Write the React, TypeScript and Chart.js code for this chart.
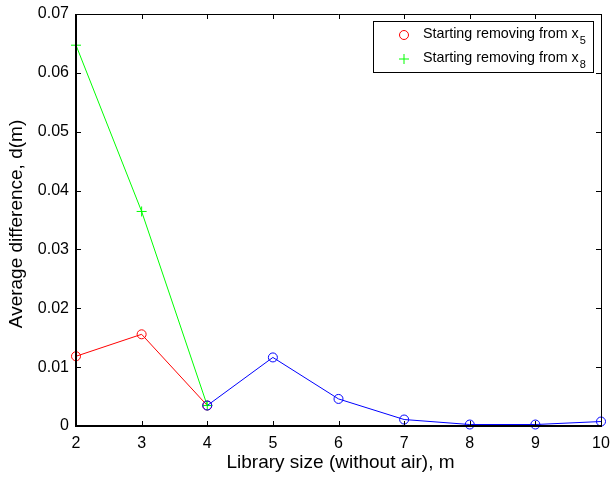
import React, { useEffect, useRef } from "react";
import Chart from "chart.js/auto";

const xRed = [2, 3, 4];
const yRed = [0.01185, 0.01558, 0.00348];
const xGreen = [2, 3, 4];
const yGreen = [0.0647, 0.03645, 0.00348];
const xBlue = [4, 5, 6, 7, 8, 9, 10];
const yBlue = [0.00348, 0.01165, 0.0046, 0.0011, 0.00025, 0.00025, 0.00076];
const legendLabels = ["Starting removing from x", "Starting removing from x"];
const legendSubs = ["5", "8"];
const xTitle = "Library size (without air), m";
const yTitle = "Average difference, d(m)";

const FONT = "'Liberation Sans', Arial, sans-serif";

const framePlugin = {
  id: "frame",
  afterDraw(chart: any) {
    const ctx = chart.ctx;
    const { left, right, top, bottom } = chart.chartArea;
    const xs = chart.scales.x;
    const ys = chart.scales.y;
    ctx.save();
    ctx.strokeStyle = "#000";
    // ticks inward
    ctx.lineWidth = 1;
    const tl = 5;
    xs.ticks.forEach((t: any) => {
      const px = Math.round(xs.getPixelForValue(t.value)) + 0.5;
      ctx.beginPath();
      ctx.moveTo(px, bottom);
      ctx.lineTo(px, bottom - tl);
      ctx.moveTo(px, top);
      ctx.lineTo(px, top + tl);
      ctx.stroke();
    });
    ys.ticks.forEach((t: any) => {
      const py = Math.round(ys.getPixelForValue(t.value)) + 0.5;
      ctx.beginPath();
      ctx.moveTo(left, py);
      ctx.lineTo(left + tl, py);
      ctx.moveTo(right, py);
      ctx.lineTo(right - tl, py);
      ctx.stroke();
    });
    // box
    ctx.lineWidth = 1;
    ctx.beginPath();
    ctx.moveTo(left, top + 0.5);
    ctx.lineTo(right + 0.5, top + 0.5);
    ctx.lineTo(right + 0.5, bottom);
    ctx.stroke();
    ctx.lineWidth = 2;
    ctx.beginPath();
    ctx.moveTo(left, top);
    ctx.lineTo(left, bottom);
    ctx.lineTo(right + 1, bottom);
    ctx.stroke();

    // titles
    ctx.fillStyle = "#000";
    ctx.font = `19px ${FONT}`;
    ctx.textAlign = "center";
    ctx.textBaseline = "middle";
    ctx.fillText(xTitle, (left + right) / 2 + 2, 463);
    ctx.save();
    ctx.translate(17, 224);
    ctx.rotate(-Math.PI / 2);
    ctx.fillText(yTitle, 0, 0);
    ctx.restore();

    // legend
    const lx = 373.5, ly = 21.5, lw = 220, lh = 51;
    ctx.fillStyle = "#fff";
    ctx.fillRect(lx, ly, lw, lh);
    ctx.lineWidth = 1;
    ctx.strokeStyle = "#000";
    ctx.strokeRect(lx, ly, lw, lh);
    const rows = [34, 58];
    const colors = ["#ff0000", "#00ff00"];
    rows.forEach((ry, i) => {
      ctx.strokeStyle = colors[i];
      ctx.lineWidth = 1;
      ctx.beginPath();
      if (i === 0) {
        ctx.arc(404, ry + 1, 4.5, 0, Math.PI * 2);
      } else {
        ctx.moveTo(399, ry + 1);
        ctx.lineTo(409, ry + 1);
        ctx.moveTo(404, ry - 4);
        ctx.lineTo(404, ry + 6);
      }
      ctx.stroke();
      ctx.fillStyle = "#000";
      ctx.textAlign = "left";
      ctx.textBaseline = "middle";
      ctx.font = `14.3px ${FONT}`;
      ctx.fillText(legendLabels[i], 423, ry);
      const w = ctx.measureText(legendLabels[i]).width;
      ctx.font = `11px ${FONT}`;
      ctx.fillText(legendSubs[i], 423 + w + 1, ry + 7);
    });
    ctx.restore();
  },
};

export default function App() {
  const ref = useRef<HTMLCanvasElement | null>(null);
  useEffect(() => {
    document.body.style.margin = "0";
    const mk = (xs: number[], ys: number[]) => xs.map((x, i) => ({ x, y: ys[i] }));
    const chart = new Chart(ref.current as HTMLCanvasElement, {
      type: "scatter",
      data: {
        datasets: [
          {
            data: mk(xRed, yRed),
            showLine: true,
            clip: false,
            borderColor: "#ff0000",
            backgroundColor: "transparent",
            borderWidth: 1,
            pointStyle: "circle",
            pointRadius: 4.5,
            pointBorderWidth: 1,
            order: 3,
          },
          {
            data: mk(xGreen, yGreen),
            showLine: true,
            clip: false,
            borderColor: "#00ff00",
            backgroundColor: "transparent",
            borderWidth: 1,
            pointStyle: "cross",
            pointRadius: 5,
            pointBorderWidth: 1,
            order: 2,
          },
          {
            data: mk(xBlue, yBlue),
            showLine: true,
            clip: false,
            borderColor: "#0000ff",
            backgroundColor: "transparent",
            borderWidth: 1,
            pointStyle: "circle",
            pointRadius: 4.5,
            pointBorderWidth: 1,
            order: 1,
          },
        ],
      },
      options: {
        animation: false,
        responsive: false,
        devicePixelRatio: 1,
        layout: { padding: { top: 14, right: 10, left: 0, bottom: 0 } },
        plugins: { legend: { display: false }, tooltip: { enabled: false } },
        elements: { line: { tension: 0 } },
        scales: {
          x: {
            type: "linear",
            min: 2,
            max: 10,
            grid: { display: false, drawTicks: false },
            border: { display: false },
            ticks: {
              stepSize: 1,
              color: "#000",
              padding: 8,
              maxRotation: 0,
              font: { family: FONT, size: 16 },
            },
            afterFit: (s: any) => {
              s.height = 54;
              s.paddingLeft = 0;
              s.paddingRight = 0;
            },
          },
          y: {
            min: 0,
            max: 0.07,
            grid: { display: false, drawTicks: false },
            border: { display: false },
            ticks: {
              stepSize: 0.01,
              color: "#000",
              padding: 7,
              font: { family: FONT, size: 16 },
              callback: (v: any) => {
                const n = Number(Number(v).toFixed(2));
                return n === 0 ? "0" : n.toFixed(2);
              },
            },
            afterFit: (s: any) => {
              s.width = 76;
              s.paddingTop = 0;
              s.paddingBottom = 0;
            },
          },
        },
      },
      plugins: [framePlugin],
    });
    return () => chart.destroy();
  }, []);
  return (
    <div style={{ position: "absolute", left: 0, top: 0, width: 611, height: 480, background: "#fff" }}>
      <canvas ref={ref} width={611} height={480} style={{ width: 611, height: 480 }} />
    </div>
  );
}
